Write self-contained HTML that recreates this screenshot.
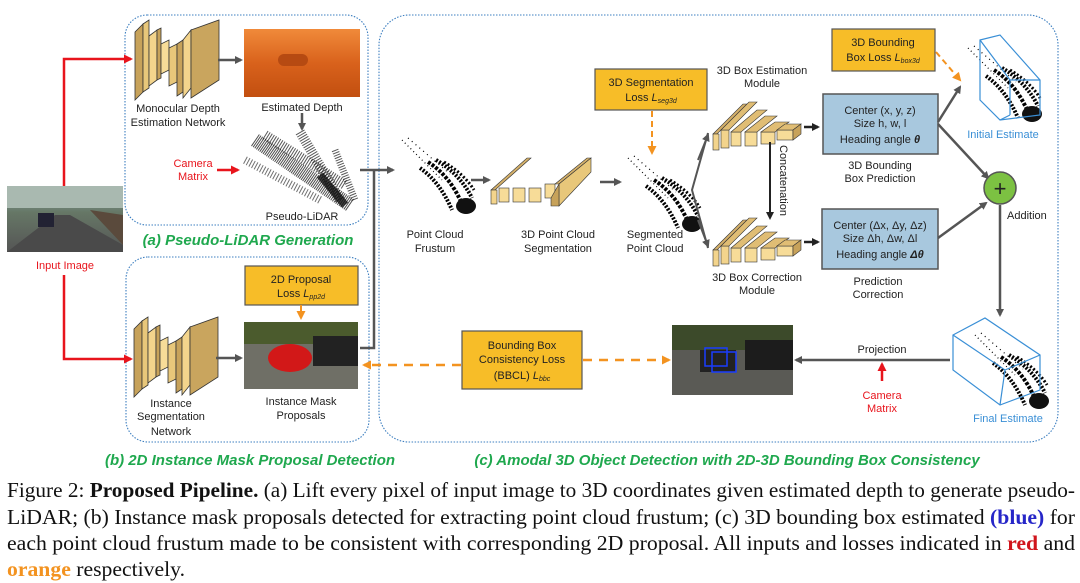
<!DOCTYPE html>
<html><head><meta charset="utf-8"><style>
html,body{margin:0;padding:0;background:#fff;}
svg{display:block;font-family:"Liberation Sans",sans-serif;}
</style></head><body>
<svg width="1080" height="583" viewBox="0 0 1080 583" xmlns="http://www.w3.org/2000/svg">
<defs>
<marker id="ag" markerWidth="8" markerHeight="8" refX="6" refY="4" orient="auto" markerUnits="userSpaceOnUse"><path d="M0,0 L8,4 L0,8 z" fill="#555"/></marker>
<marker id="ar" markerWidth="9" markerHeight="9" refX="7" refY="4.5" orient="auto" markerUnits="userSpaceOnUse"><path d="M0,0 L9,4.5 L0,9 z" fill="#e8141c"/></marker>
<marker id="ao" markerWidth="9" markerHeight="9" refX="7" refY="4.5" orient="auto" markerUnits="userSpaceOnUse"><path d="M0,0 L9,4.5 L0,9 z" fill="#f39320"/></marker>
<marker id="ak" markerWidth="8" markerHeight="8" refX="6" refY="4" orient="auto" markerUnits="userSpaceOnUse"><path d="M0,0 L8,4 L0,8 z" fill="#222"/></marker>
<linearGradient id="dep" x1="0" y1="0" x2="0" y2="1"><stop offset="0" stop-color="#f08a3a"/><stop offset="0.5" stop-color="#d9621c"/><stop offset="1" stop-color="#c24f10"/></linearGradient>
<linearGradient id="road" x1="0" y1="0" x2="0" y2="1"><stop offset="0" stop-color="#8aa"/><stop offset="0.4" stop-color="#676"/><stop offset="1" stop-color="#555"/></linearGradient>
<g id="net">
 <polygon points="0,12 8,4 8,72 0,80" fill="#c7a25a" stroke="#333" stroke-width="0.8"/>
 <polygon points="8,4 14,0 14,68 8,72" fill="#e8c77a" stroke="#333" stroke-width="0.8"/>
 <polygon points="14,16 22,10 22,60 14,66" fill="#f3d48c" stroke="#333" stroke-width="0.8"/>
 <polygon points="22,10 26,8 26,58 22,60" fill="#c7a25a" stroke="#333" stroke-width="0.8"/>
 <polygon points="26,24 34,20 34,50 26,54" fill="#f7dc98" stroke="#333" stroke-width="0.8"/>
 <polygon points="34,28 42,24 42,62 34,66" fill="#e8c77a" stroke="#333" stroke-width="0.8"/>
 <polygon points="42,24 48,20 48,72 42,76" fill="#c7a25a" stroke="#333" stroke-width="0.8"/>
 <polygon points="48,20 56,10 56,68 48,78" fill="#f3d48c" stroke="#333" stroke-width="0.8"/>
 <polygon points="56,10 84,0 84,60 56,78" fill="#c9a55e" stroke="#333" stroke-width="0.8"/>
</g>
<g id="mod">
 <polygon points="0,40 30,10 34,10 4,40" fill="#d4b06a" stroke="#333" stroke-width="0.6"/>
 <rect x="0" y="40" width="6" height="16" fill="#f3d48c" stroke="#333" stroke-width="0.6"/>
 <rect x="8" y="36" width="8" height="18" fill="#f3d48c" stroke="#333" stroke-width="0.6"/>
 <polygon points="8,36 36,8 44,8 16,36" fill="#e0bd74" stroke="#333" stroke-width="0.6"/>
 <rect x="18" y="38" width="10" height="14" fill="#f7dc98" stroke="#333" stroke-width="0.6"/>
 <polygon points="18,38 44,16 54,16 28,38" fill="#e0bd74" stroke="#333" stroke-width="0.6"/>
 <rect x="32" y="38" width="12" height="14" fill="#f7dc98" stroke="#333" stroke-width="0.6"/>
 <polygon points="32,38 52,22 64,22 44,38" fill="#e0bd74" stroke="#333" stroke-width="0.6"/>
 <rect x="48" y="38" width="14" height="12" fill="#f7dc98" stroke="#333" stroke-width="0.6"/>
 <polygon points="48,38 62,28 76,28 62,38" fill="#e0bd74" stroke="#333" stroke-width="0.6"/>
 <rect x="64" y="36" width="16" height="10" fill="#f7dc98" stroke="#333" stroke-width="0.6"/>
 <polygon points="64,36 72,30 88,30 80,36" fill="#e0bd74" stroke="#333" stroke-width="0.6"/>
 <polygon points="80,36 88,30 88,40 80,46" fill="#c7a25a" stroke="#333" stroke-width="0.6"/>
</g>
<g id="pc">
 <path d="M0,0 L40,40" stroke="#000" stroke-width="1.2" stroke-dasharray="1 3" fill="none"/>
 <path d="M6,-2 L48,34" stroke="#000" stroke-width="1.2" stroke-dasharray="1 4" fill="none"/>
 <path d="M18,28 Q38,42 50,70" stroke="#000" stroke-width="4" stroke-dasharray="2 1.5" fill="none"/>
 <path d="M26,22 Q48,36 60,64" stroke="#000" stroke-width="4" stroke-dasharray="3 1.5" fill="none"/>
 <path d="M34,20 Q58,34 70,58" stroke="#000" stroke-width="4" stroke-dasharray="2 1.5" fill="none"/>
 <path d="M42,22 Q62,34 72,50" stroke="#000" stroke-width="3" stroke-dasharray="2 2" fill="none"/>
 <ellipse cx="64" cy="66" rx="10" ry="8" fill="#111"/>
</g>
</defs>

<g fill="none" stroke="#3d7fc0" stroke-width="1.1" stroke-dasharray="1.5 1.5">
<rect x="125" y="15" width="243" height="210" rx="22"/>
<rect x="126" y="257" width="243" height="185" rx="22"/>
<rect x="379" y="15" width="679" height="427" rx="30"/>
</g>
<g font-style="italic" font-weight="bold" fill="#1fa84e" font-size="15">
<text x="248" y="245" text-anchor="middle">(a) Pseudo-LiDAR Generation</text>
<text x="250" y="465" text-anchor="middle">(b) 2D Instance Mask Proposal Detection</text>
<text x="727" y="465" text-anchor="middle">(c) Amodal 3D Object Detection with 2D-3D Bounding Box Consistency</text>
</g>

<rect x="7" y="186" width="116" height="66" fill="url(#road)"/>
<rect x="7" y="186" width="116" height="22" fill="#a9b9b0"/>
<polygon points="7,252 55,215 70,215 123,245 123,252" fill="#4a4a4a"/>
<rect x="38" y="213" width="16" height="14" fill="#223"/>
<polygon points="90,210 123,215 123,245" fill="#5a4a3c"/>
<text x="65" y="269" text-anchor="middle" fill="#e8141c" font-size="11">Input Image</text>
<polyline points="64,186 64,59 131,59" fill="none" stroke="#e8141c" stroke-width="2.5" marker-end="url(#ar)"/>
<polyline points="64,275 64,359 131,359" fill="none" stroke="#e8141c" stroke-width="2.5" marker-end="url(#ar)"/>

<use href="#net" x="135" y="20"/>
<line x1="218" y1="60" x2="241" y2="60" stroke="#555" stroke-width="2.5" marker-end="url(#ag)"/>
<rect x="244" y="29" width="116" height="68" fill="url(#dep)"/>
<rect x="278" y="54" width="30" height="12" rx="6" fill="#b64a12"/>
<text x="178" y="112" text-anchor="middle" font-size="11" fill="#222">Monocular Depth</text>
<text x="178" y="126" text-anchor="middle" font-size="11" fill="#222">Estimation Network</text>
<text x="302" y="111" text-anchor="middle" font-size="11" fill="#222">Estimated Depth</text>
<line x1="302" y1="113" x2="302" y2="129" stroke="#555" stroke-width="2.5" marker-end="url(#ag)"/>
<g stroke="#111" fill="none">
<path d="M255,140 L350,205" stroke-width="14" stroke-dasharray="1 1" opacity="0.75"/>
<path d="M265,135 L345,185" stroke-width="10" stroke-dasharray="1 1.5" opacity="0.7"/>
<path d="M300,132 L340,200" stroke-width="10" stroke-dasharray="1 1.5" opacity="0.7"/>
<path d="M245,160 L320,200" stroke-width="8" stroke-dasharray="1 2" opacity="0.6"/>
<path d="M335,150 L355,200" stroke-width="7" stroke-dasharray="1 1.5" opacity="0.7"/>
<path d="M320,175 L345,205" stroke-width="8" opacity="0.8"/>
</g>
<text x="302" y="220" text-anchor="middle" font-size="11" fill="#222">Pseudo-LiDAR</text>
<text x="193" y="167" text-anchor="middle" font-size="11" fill="#e8141c">Camera</text>
<text x="193" y="180" text-anchor="middle" font-size="11" fill="#e8141c">Matrix</text>
<line x1="217" y1="170" x2="238" y2="170" stroke="#e8141c" stroke-width="2.5" marker-end="url(#ar)"/>

<rect x="245" y="266" width="113" height="39" fill="#f7bd28" stroke="#555" stroke-width="1.2"/>
<text x="301" y="283" text-anchor="middle" font-size="11" fill="#222">2D Proposal</text>
<text x="301" y="297" text-anchor="middle" font-size="11" fill="#222">Loss <tspan font-style="italic">L<tspan font-size="7" dy="2">pp2d</tspan></tspan></text>
<line x1="301" y1="305" x2="301" y2="318" stroke="#f39320" stroke-width="2" marker-end="url(#ao)"/>
<use href="#net" x="134" y="317"/>
<line x1="216" y1="358" x2="241" y2="358" stroke="#555" stroke-width="2.5" marker-end="url(#ag)"/>
<rect x="244" y="322" width="114" height="67" fill="#6f6f66"/>
<rect x="244" y="322" width="114" height="22" fill="#4b5b2d"/>
<rect x="313" y="336" width="45" height="30" fill="#222"/>
<ellipse cx="290" cy="358" rx="22" ry="14" fill="#d21818"/>
<text x="171" y="407" text-anchor="middle" font-size="11" fill="#222">Instance</text>
<text x="171" y="420" text-anchor="middle" font-size="11" fill="#222">Segmentation</text>
<text x="171" y="435" text-anchor="middle" font-size="11" fill="#222">Network</text>
<text x="301" y="405" text-anchor="middle" font-size="11" fill="#222">Instance Mask</text>
<text x="301" y="419" text-anchor="middle" font-size="11" fill="#222">Proposals</text>

<polyline points="360,348 374,348 374,170" fill="none" stroke="#555" stroke-width="2.5"/>
<line x1="360" y1="170" x2="393" y2="170" stroke="#555" stroke-width="2.5" marker-end="url(#ag)"/>

<use href="#pc" x="402" y="140"/>
<text x="435" y="238" text-anchor="middle" font-size="11" fill="#222">Point Cloud</text>
<text x="435" y="252" text-anchor="middle" font-size="11" fill="#222">Frustum</text>
<line x1="471" y1="180" x2="489" y2="180" stroke="#555" stroke-width="2.5" marker-end="url(#ag)"/>
<g transform="translate(491,158)">
<polygon points="0,32 36,0 40,0 4,32" fill="#d4b06a" stroke="#333" stroke-width="0.6"/>
<rect x="0" y="32" width="6" height="14" fill="#f3d48c" stroke="#333" stroke-width="0.6"/>
<rect x="8" y="30" width="10" height="14" fill="#f7dc98" stroke="#333" stroke-width="0.6"/>
<rect x="22" y="30" width="12" height="14" fill="#f7dc98" stroke="#333" stroke-width="0.6"/>
<rect x="38" y="30" width="12" height="14" fill="#f7dc98" stroke="#333" stroke-width="0.6"/>
<rect x="54" y="26" width="10" height="14" fill="#f7dc98" stroke="#333" stroke-width="0.6"/>
<polygon points="64,26 96,0 100,0 68,26" fill="#d4b06a" stroke="#333" stroke-width="0.6"/>
<polygon points="68,26 100,0 100,14 68,48" fill="#e8c77a" stroke="#333" stroke-width="0.6"/>
<polygon points="60,40 68,26 68,48 60,48" fill="#c7a25a" stroke="#333" stroke-width="0.6"/>
</g>
<text x="558" y="238" text-anchor="middle" font-size="11" fill="#222">3D Point Cloud</text>
<text x="558" y="252" text-anchor="middle" font-size="11" fill="#222">Segmentation</text>
<line x1="600" y1="182" x2="620" y2="182" stroke="#555" stroke-width="2.5" marker-end="url(#ag)"/>
<use href="#pc" x="628" y="158"/>
<text x="655" y="238" text-anchor="middle" font-size="11" fill="#222">Segmented</text>
<text x="655" y="252" text-anchor="middle" font-size="11" fill="#222">Point Cloud</text>
<rect x="595" y="69" width="112" height="41" fill="#f7bd28" stroke="#555" stroke-width="1.2"/>
<text x="651" y="86" text-anchor="middle" font-size="11" fill="#222">3D Segmentation</text>
<text x="651" y="101" text-anchor="middle" font-size="11" fill="#222">Loss <tspan font-style="italic">L<tspan font-size="7" dy="2">seg3d</tspan></tspan></text>
<line x1="652" y1="111" x2="652" y2="153" stroke="#f39320" stroke-width="2" stroke-dasharray="6 4" marker-end="url(#ao)"/>
<polyline points="708,133 692,190 708,248" fill="none" stroke="#555" stroke-width="2"/>
<line x1="698" y1="160" x2="708" y2="135" stroke="#555" stroke-width="2" marker-end="url(#ag)"/>
<line x1="698" y1="220" x2="708" y2="246" stroke="#555" stroke-width="2" marker-end="url(#ag)"/>

<use href="#mod" x="713" y="94"/>
<text x="762" y="74" text-anchor="middle" font-size="11" fill="#222">3D Box Estimation</text>
<text x="762" y="87" text-anchor="middle" font-size="11" fill="#222">Module</text>
<line x1="804" y1="127" x2="818" y2="127" stroke="#222" stroke-width="2.5" marker-end="url(#ak)"/>
<rect x="823" y="94" width="115" height="60" fill="#a8c8de" stroke="#555" stroke-width="1.5"/>
<text x="880" y="114" text-anchor="middle" font-size="11" fill="#222">Center (x, y, z)</text>
<text x="880" y="127" text-anchor="middle" font-size="11" fill="#222">Size h, w, l</text>
<text x="880" y="143" text-anchor="middle" font-size="11" fill="#222">Heading angle <tspan font-weight="bold" font-style="italic">θ</tspan></text>
<text x="880" y="169" text-anchor="middle" font-size="11" fill="#222">3D Bounding</text>
<text x="880" y="182" text-anchor="middle" font-size="11" fill="#222">Box Prediction</text>
<line x1="770" y1="142" x2="770" y2="218" stroke="#222" stroke-width="2" marker-end="url(#ak)"/>
<text transform="translate(780,145) rotate(90)" font-size="11" fill="#222">Concatenation</text>

<use href="#mod" x="713" y="210"/>
<text x="757" y="281" text-anchor="middle" font-size="11" fill="#222">3D Box Correction</text>
<text x="757" y="294" text-anchor="middle" font-size="11" fill="#222">Module</text>
<line x1="804" y1="242" x2="818" y2="242" stroke="#222" stroke-width="2.5" marker-end="url(#ak)"/>
<rect x="822" y="209" width="116" height="60" fill="#a8c8de" stroke="#555" stroke-width="1.5"/>
<text x="880" y="229" text-anchor="middle" font-size="11" fill="#222">Center (Δx, Δy, Δz)</text>
<text x="880" y="242" text-anchor="middle" font-size="11" fill="#222">Size Δh, Δw, Δl</text>
<text x="880" y="258" text-anchor="middle" font-size="11" fill="#222">Heading angle <tspan font-weight="bold" font-style="italic">Δθ</tspan></text>
<text x="878" y="285" text-anchor="middle" font-size="11" fill="#222">Prediction</text>
<text x="878" y="298" text-anchor="middle" font-size="11" fill="#222">Correction</text>

<rect x="832" y="29" width="103" height="42" fill="#f7bd28" stroke="#555" stroke-width="1.2"/>
<text x="883" y="46" text-anchor="middle" font-size="11" fill="#222">3D Bounding</text>
<text x="883" y="61" text-anchor="middle" font-size="11" fill="#222">Box Loss <tspan font-style="italic">L<tspan font-size="7" dy="2">box3d</tspan></tspan></text>
<line x1="936" y1="52" x2="960" y2="80" stroke="#f39320" stroke-width="2" stroke-dasharray="6 4" marker-end="url(#ao)"/>

<use href="#pc" x="968" y="48"/>
<g fill="none" stroke="#3a8fd6" stroke-width="1.2">
<polygon points="980,40 1000,35 1040,80 1040,115 1000,120 980,100"/>
<polyline points="980,40 1010,80 1040,80"/><polyline points="1010,80 1010,115"/><line x1="1000" y1="120" x2="1010" y2="115"/>
</g>
<text x="1003" y="138" text-anchor="middle" font-size="11" fill="#3a8fd6">Initial Estimate</text>
<line x1="938" y1="122" x2="960" y2="87" stroke="#555" stroke-width="2.5" marker-end="url(#ag)"/>
<line x1="938" y1="124" x2="988" y2="178" stroke="#555" stroke-width="2.5" marker-end="url(#ag)"/>
<line x1="938" y1="238" x2="986" y2="203" stroke="#555" stroke-width="2.5" marker-end="url(#ag)"/>
<circle cx="1000" cy="188" r="16" fill="#7cc142" stroke="#555" stroke-width="1.5"/>
<text x="1000" y="196" text-anchor="middle" font-size="22" fill="#222">+</text>
<text x="1007" y="219" font-size="11" fill="#222">Addition</text>
<line x1="1000" y1="205" x2="1000" y2="315" stroke="#555" stroke-width="2.5" marker-end="url(#ag)"/>

<use href="#pc" x="975" y="335"/>
<g fill="none" stroke="#3a8fd6" stroke-width="1.2">
<polygon points="953,335 985,318 1040,355 1040,390 1000,405 953,370"/>
<polyline points="953,335 1005,370 1040,355"/><polyline points="1005,370 1000,405"/>
</g>
<text x="1008" y="422" text-anchor="middle" font-size="11" fill="#3a8fd6">Final Estimate</text>
<line x1="950" y1="360" x2="796" y2="360" stroke="#555" stroke-width="2.5" marker-end="url(#ag)"/>
<text x="882" y="353" text-anchor="middle" font-size="11" fill="#222">Projection</text>
<line x1="882" y1="381" x2="882" y2="364" stroke="#e8141c" stroke-width="2.5" marker-end="url(#ar)"/>
<text x="882" y="399" text-anchor="middle" font-size="11" fill="#e8141c">Camera</text>
<text x="882" y="412" text-anchor="middle" font-size="11" fill="#e8141c">Matrix</text>

<rect x="672" y="325" width="121" height="70" fill="#5a5a55"/>
<rect x="672" y="325" width="121" height="25" fill="#3c4a2a"/>
<rect x="745" y="340" width="48" height="30" fill="#1c1c1c"/>
<rect x="700" y="350" width="36" height="22" fill="#222"/>
<g fill="none" stroke="#1a3cff" stroke-width="1.5"><rect x="705" y="348" width="22" height="18"/><rect x="712" y="352" width="24" height="20"/></g>

<rect x="462" y="331" width="120" height="58" fill="#f7bd28" stroke="#555" stroke-width="1.2"/>
<text x="522" y="349" text-anchor="middle" font-size="11" fill="#222">Bounding Box</text>
<text x="522" y="363" text-anchor="middle" font-size="11" fill="#222">Consistency Loss</text>
<text x="522" y="379" text-anchor="middle" font-size="11" fill="#222">(BBCL) <tspan font-style="italic">L<tspan font-size="7" dy="2">bbc</tspan></tspan></text>
<line x1="461" y1="365" x2="364" y2="365" stroke="#f39320" stroke-width="2.5" stroke-dasharray="9 7" marker-end="url(#ao)"/>
<line x1="583" y1="360" x2="669" y2="360" stroke="#f39320" stroke-width="2.5" stroke-dasharray="9 7" marker-end="url(#ao)"/>

<g font-family="'Liberation Serif',serif" font-size="21" fill="#111">
<text x="7" y="497" textLength="1068" lengthAdjust="spacingAndGlyphs">Figure 2: <tspan font-weight="bold">Proposed Pipeline.</tspan> (a) Lift every pixel of input image to 3D coordinates given estimated depth to generate pseudo-</text>
<text x="7" y="524" textLength="1068" lengthAdjust="spacingAndGlyphs">LiDAR; (b) Instance mask proposals detected for extracting point cloud frustum; (c) 3D bounding box estimated <tspan font-weight="bold" fill="#2626c8">(blue)</tspan> for</text>
<text x="7" y="550" textLength="1068" lengthAdjust="spacingAndGlyphs">each point cloud frustum made to be consistent with corresponding 2D proposal. All inputs and losses indicated in <tspan font-weight="bold" fill="#d0141c">red</tspan> and</text>
<text x="7" y="576" textLength="178" lengthAdjust="spacingAndGlyphs"><tspan font-weight="bold" fill="#f39320">orange</tspan> respectively.</text>
</g>
</svg>
</body></html>
